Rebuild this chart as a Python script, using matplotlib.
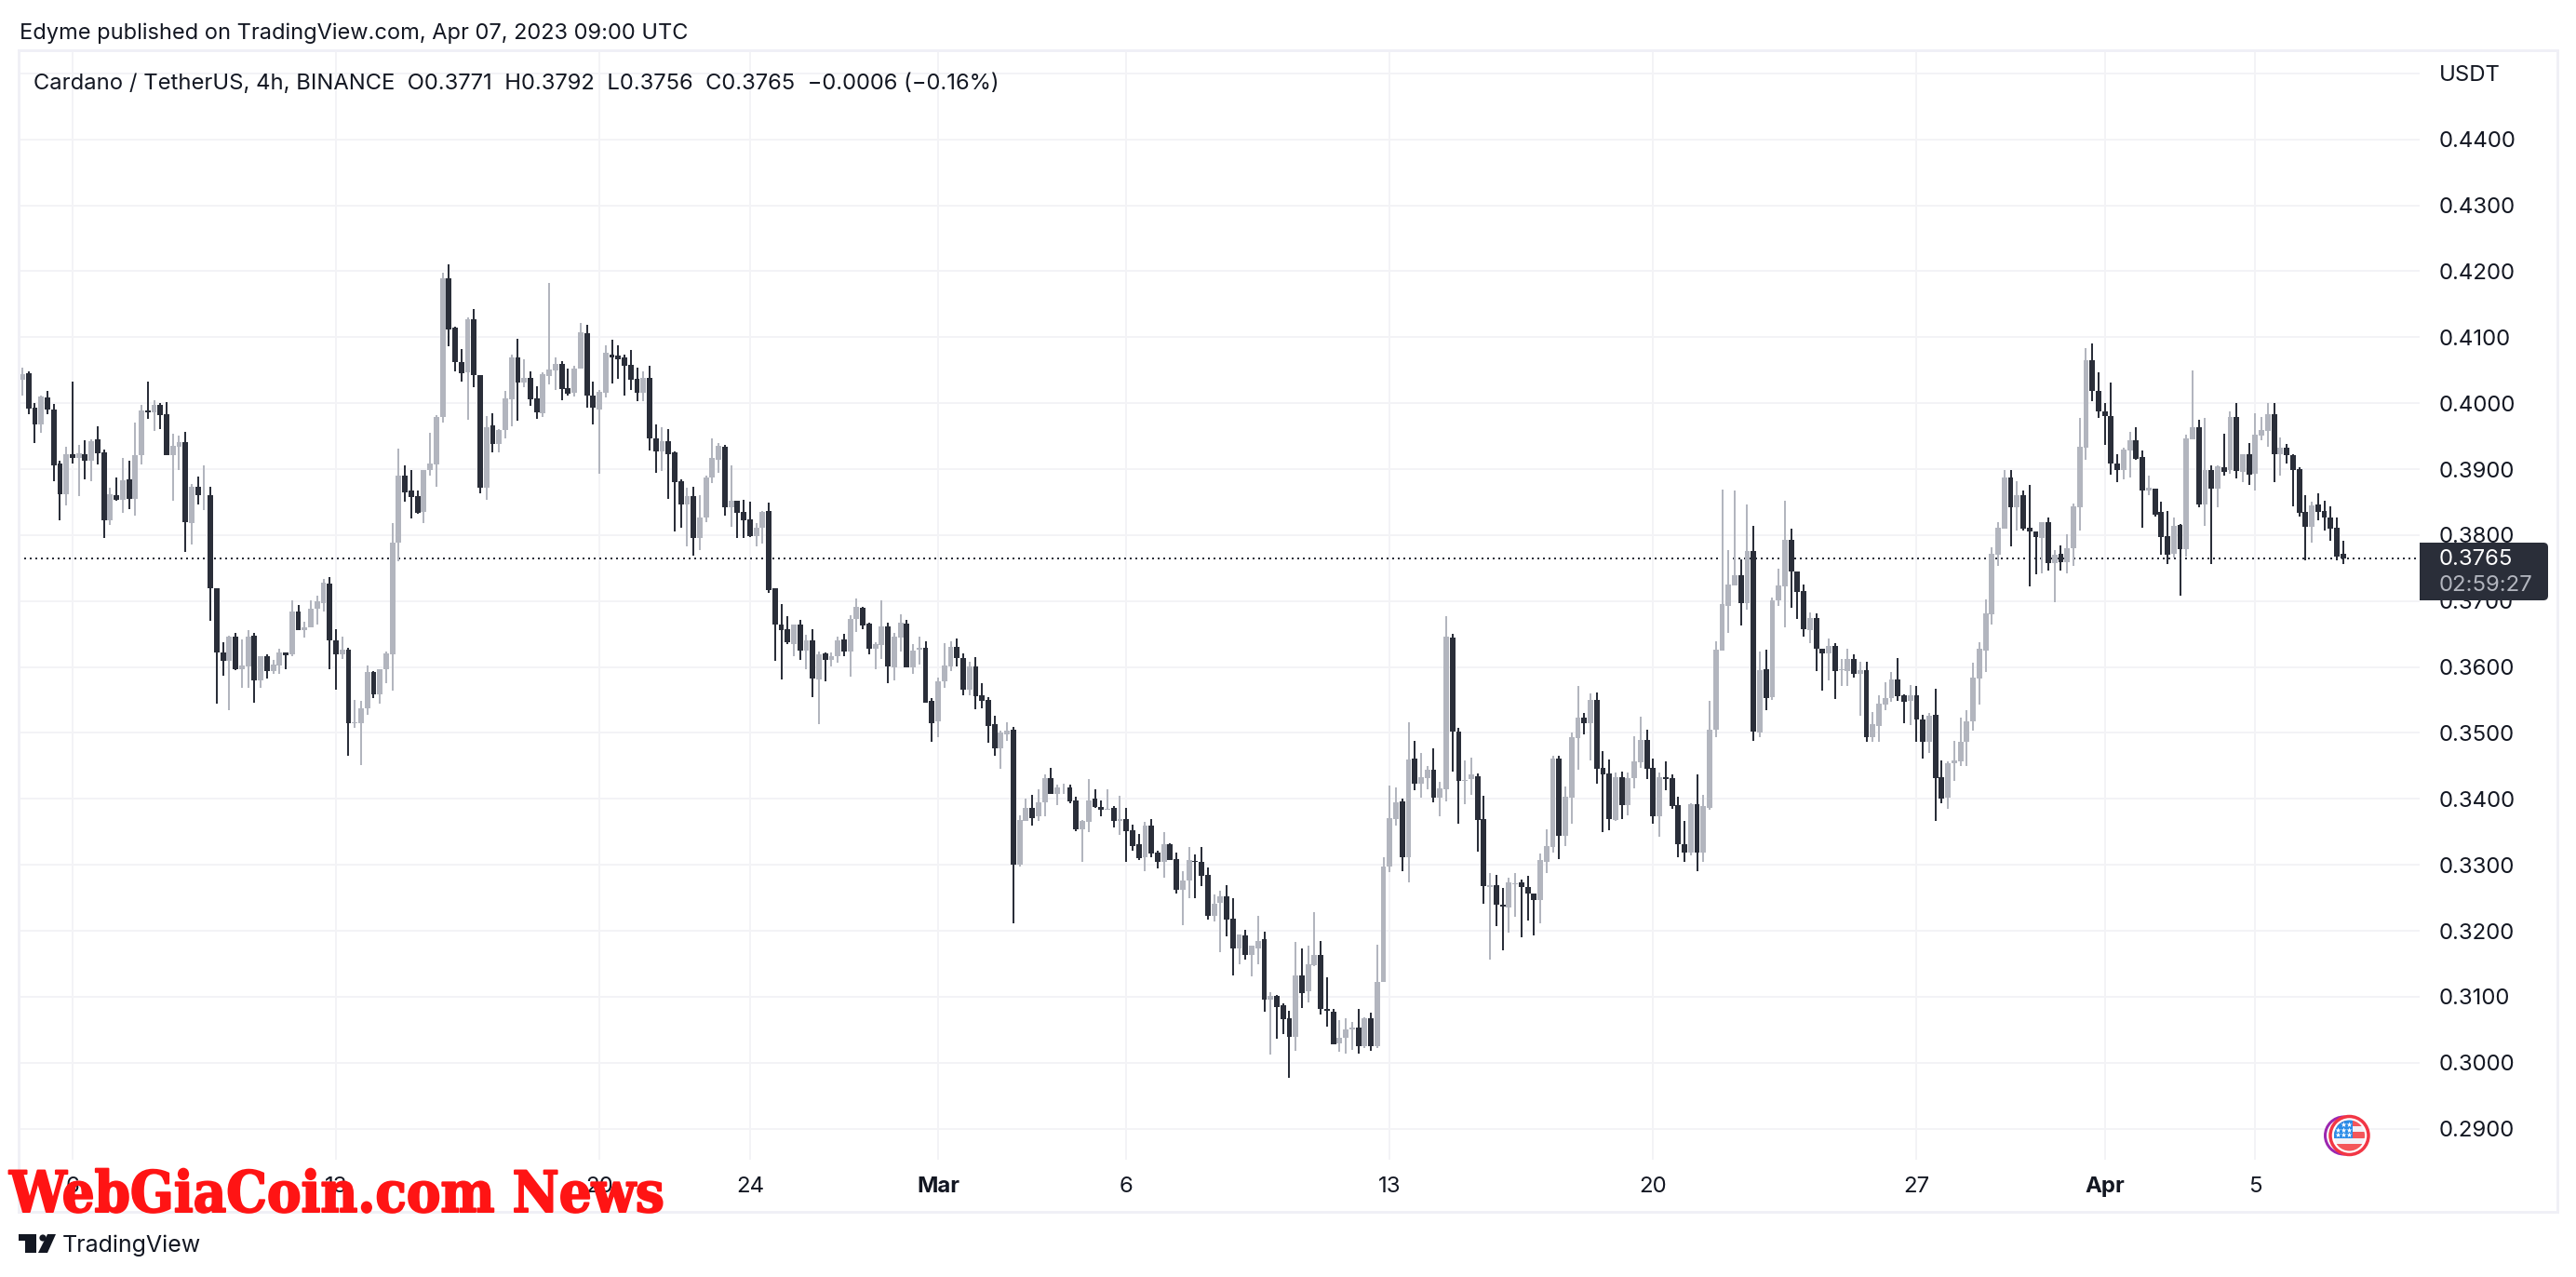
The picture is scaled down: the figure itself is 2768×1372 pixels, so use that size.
import matplotlib
matplotlib.use("Agg")
import matplotlib.pyplot as plt
import matplotlib.patheffects as pe
from matplotlib.patches import Rectangle, Circle, Polygon, FancyBboxPatch

# Prices in units of 0.0001 USDT, 4h candles, index 1..371
highs = [
4054,4048,4000,4012,4018,3999,3913,3934,4032,3936,
3944,3945,3965,3929,3872,3887,3917,3913,3971,3997,
4033,4005,4000,4002,3953,3951,3956,3878,3889,3905,
3873,3720,3637,3647,3651,3642,3656,3651,3616,3619,
3611,3628,3622,3701,3694,3668,3701,3708,3733,3737,
3657,3646,3629,3550,3548,3602,3594,3597,3623,3818,
3931,3906,3899,3868,3899,3955,3982,4198,4211,4116,
4082,4130,4143,4043,3981,3985,3961,4019,4073,4097,
4066,4048,4026,4047,4182,4070,4064,4053,4057,4121,
4119,4032,4020,4088,4096,4088,4073,4081,4054,4048,
4057,3968,3964,3961,3927,3885,3872,3873,3860,3890,
3947,3939,3937,3905,3852,3854,3851,3818,3837,3849,
3720,3695,3677,3665,3672,3649,3657,3623,3622,3622,
3646,3650,3679,3704,3691,3667,3638,3701,3667,3652,
3680,3671,3635,3646,3639,3553,3584,3636,3639,3643,
3620,3608,3615,3575,3554,3526,3504,3516,3509,3375,
3400,3406,3415,3437,3447,3421,3423,3422,3403,3368,
3430,3414,3398,3414,3389,3405,3386,3361,3347,3365,
3369,3321,3349,3333,3319,3291,3327,3316,3327,3296,
3255,3261,3269,3250,3195,3201,3177,3223,3199,3107,
3103,3090,3079,3183,3174,3177,3229,3185,3130,3081,
3064,3067,3062,3082,3069,3076,3179,3311,3420,3417,
3401,3516,3488,3469,3450,3477,3426,3677,3650,3508,
3458,3463,3439,3405,3287,3285,3265,3281,3288,3278,
3284,3257,3317,3354,3466,3465,3419,3501,3571,3531,
3560,3562,3473,3460,3440,3442,3440,3495,3524,3505,
3461,3440,3457,3437,3404,3366,3394,3437,3406,3548,
3639,3869,3777,3868,3763,3847,3814,3623,3626,3705,
3749,3852,3810,3745,3725,3683,3681,3628,3643,3636,
3612,3628,3619,3608,3608,3532,3557,3577,3593,3613,
3559,3572,3571,3527,3531,3567,3459,3457,3488,3523,
3534,3606,3638,3702,3782,3819,3898,3899,3881,3867,
3876,3805,3820,3827,3777,3785,3801,3848,3978,4084,
4091,4047,4000,4031,3923,3932,3957,3963,3928,3890,
3871,3850,3837,3827,3817,3952,4049,3975,3978,3905,
3905,3953,3988,4000,3923,3940,3984,3979,4000,4000,
3948,3938,3922,3903,3860,3851,3864,3852,3844,3827,3792]
body_tops = [
4044,4045,3993,4010,4008,3991,3908,3922,3922,3924,
3922,3943,3945,3925,3862,3861,3883,3884,3921,3989,
3989,3998,3998,3983,3935,3941,3941,3873,3873,3861,
3860,3720,3622,3646,3646,3602,3646,3647,3616,3616,
3603,3622,3622,3684,3684,3660,3688,3699,3728,3727,
3640,3626,3626,3516,3538,3593,3593,3597,3621,3789,
3890,3890,3867,3859,3899,3908,3979,4189,4189,4114,
4062,4127,4127,4043,3964,3966,3959,4007,4070,4070,
4038,4039,4007,4044,4051,4059,4059,4023,4053,4107,
4106,4012,4017,4076,4074,4072,4070,4058,4037,4039,
4038,3946,3943,3943,3925,3881,3859,3859,3827,3887,
3917,3935,3934,3852,3852,3835,3824,3811,3835,3836,
3720,3665,3658,3665,3665,3640,3640,3619,3621,3617,
3640,3642,3673,3691,3690,3666,3635,3662,3661,3646,
3667,3666,3625,3629,3629,3548,3578,3602,3631,3631,
3613,3601,3601,3557,3550,3514,3500,3504,3505,3368,
3387,3387,3395,3431,3431,3417,3415,3417,3397,3366,
3398,3400,3388,3385,3387,3369,3369,3352,3331,3359,
3359,3318,3331,3331,3309,3276,3307,3306,3305,3285,
3241,3253,3253,3218,3194,3193,3177,3185,3187,3102,
3102,3087,3067,3133,3133,3150,3163,3163,3081,3078,
3038,3051,3054,3054,3067,3067,3123,3298,3371,3395,
3396,3460,3461,3433,3444,3444,3416,3646,3644,3502,
3429,3437,3435,3369,3269,3269,3239,3273,3272,3273,
3267,3256,3307,3328,3461,3461,3403,3493,3523,3523,
3550,3550,3447,3438,3433,3433,3432,3457,3490,3489,
3447,3433,3433,3431,3390,3332,3392,3392,3389,3505,
3626,3695,3725,3739,3739,3776,3776,3595,3596,3701,
3724,3793,3793,3745,3715,3674,3674,3628,3632,3632,
3597,3612,3612,3595,3595,3513,3544,3553,3581,3581,
3557,3557,3557,3521,3526,3527,3433,3454,3458,3486,
3517,3584,3627,3681,3771,3811,3887,3888,3861,3861,
3811,3805,3820,3819,3770,3771,3780,3843,3934,4065,
4065,4019,3988,3981,3909,3929,3944,3944,3919,3872,
3871,3835,3799,3814,3815,3946,3963,3963,3899,3898,
3904,3903,3979,3979,3923,3923,3952,3959,3983,3983,
3932,3932,3921,3900,3835,3845,3846,3836,3827,3811,3771]
body_bottoms = [
4035,3992,3968,3968,3990,3906,3862,3862,3917,3917,
3913,3913,3924,3822,3822,3854,3854,3855,3855,3921,
3986,3986,3982,3921,3921,3934,3820,3818,3860,3860,
3720,3622,3610,3609,3597,3597,3601,3580,3579,3594,
3594,3602,3618,3619,3656,3656,3660,3688,3697,3640,
3619,3619,3515,3515,3515,3538,3559,3559,3596,3619,
3789,3865,3858,3834,3835,3898,3907,3979,4112,4062,
4045,4047,4042,3872,3872,3938,3938,3959,4006,4031,
4031,4006,3986,3984,4041,4049,4022,4014,4016,4053,
4011,3993,3991,4016,4070,4067,4056,4035,4016,4016,
3946,3927,3927,3922,3880,3846,3846,3796,3796,3826,
3887,3914,3842,3842,3833,3822,3798,3798,3811,3717,
3665,3656,3637,3635,3625,3625,3582,3581,3611,3611,
3616,3624,3623,3673,3663,3627,3628,3633,3601,3599,
3645,3600,3600,3626,3546,3515,3517,3578,3601,3613,
3565,3566,3556,3549,3511,3477,3477,3498,3300,3300,
3367,3371,3373,3395,3408,3408,3415,3396,3354,3354,
3365,3388,3383,3383,3367,3366,3351,3329,3310,3312,
3317,3304,3305,3308,3262,3262,3276,3305,3284,3223,
3223,3242,3217,3174,3174,3163,3164,3174,3095,3095,
3085,3066,3039,3039,3106,3108,3148,3081,3079,3028,
3029,3038,3050,3025,3025,3025,3025,3122,3297,3370,
3312,3311,3423,3423,3432,3402,3402,3415,3502,3427,
3427,3430,3368,3268,3267,3239,3237,3235,3270,3266,
3256,3246,3246,3305,3327,3344,3344,3402,3492,3515,
3515,3445,3437,3369,3368,3390,3390,3431,3455,3445,
3373,3373,3430,3389,3331,3318,3318,3318,3318,3386,
3505,3625,3693,3724,3697,3697,3502,3500,3553,3554,
3701,3722,3745,3714,3657,3656,3628,3621,3621,3594,
3595,3594,3590,3590,3494,3493,3510,3543,3553,3556,
3547,3548,3520,3486,3486,3432,3400,3402,3454,3457,
3486,3517,3583,3625,3680,3770,3810,3842,3842,3810,
3805,3797,3795,3758,3758,3759,3759,3780,3842,3933,
4018,3987,3980,3909,3899,3899,3928,3916,3867,3867,
3831,3797,3770,3771,3778,3778,3945,3846,3846,3870,
3870,3896,3898,3897,3896,3891,3893,3951,3958,3923,
3922,3921,3898,3833,3812,3812,3835,3826,3810,3768,3765]
lows = [
4012,3983,3940,3955,3983,3881,3822,3845,3908,3859,
3884,3882,3907,3795,3815,3852,3833,3840,3830,3907,
3976,3958,3960,3921,3852,3898,3774,3786,3847,3838,
3670,3544,3587,3534,3595,3568,3568,3546,3568,3582,
3589,3589,3596,3616,3656,3644,3660,3664,3684,3596,
3565,3612,3465,3508,3451,3527,3553,3545,3575,3564,
3760,3851,3825,3832,3818,3890,3873,3971,4086,4048,
4033,3975,4024,3863,3854,3926,3925,3947,3965,3974,
4024,3996,3976,3979,4028,4020,4005,4012,4010,4053,
3993,3968,3893,4009,4030,4037,4012,4020,4003,4003,
3928,3895,3897,3855,3805,3811,3783,3769,3777,3820,
3879,3895,3830,3813,3795,3795,3797,3783,3787,3712,
3609,3581,3635,3616,3611,3597,3555,3513,3578,3601,
3606,3616,3585,3653,3657,3619,3596,3612,3576,3579,
3624,3599,3590,3604,3546,3486,3493,3568,3594,3601,
3557,3557,3536,3538,3485,3465,3445,3488,3212,3297,
3367,3359,3366,3373,3407,3391,3407,3394,3351,3304,
3349,3387,3373,3383,3357,3346,3304,3322,3308,3291,
3312,3294,3280,3308,3257,3209,3249,3249,3268,3217,
3214,3167,3191,3133,3150,3156,3131,3149,3077,3013,
3036,3043,2977,3018,3083,3091,3146,3073,3055,3028,
3017,3014,3019,3014,3022,3018,3022,3122,3289,3359,
3291,3274,3413,3402,3415,3395,3374,3396,3441,3362,
3392,3406,3320,3241,3156,3207,3170,3197,3221,3190,
3216,3193,3211,3288,3318,3309,3328,3363,3444,3498,
3458,3423,3349,3352,3366,3369,3375,3416,3447,3430,
3363,3342,3413,3385,3311,3304,3315,3290,3305,3383,
3493,3625,3652,3724,3663,3687,3488,3493,3534,3550,
3693,3660,3690,3673,3646,3636,3594,3564,3580,3551,
3571,3571,3584,3526,3487,3486,3487,3535,3547,3549,
3515,3512,3486,3461,3470,3366,3393,3385,3427,3450,
3450,3503,3543,3592,3665,3753,3810,3783,3807,3807,
3722,3741,3742,3746,3698,3746,3742,3753,3807,3914,
4003,3977,3937,3891,3880,3884,3887,3914,3811,3860,
3828,3770,3756,3766,3708,3768,3945,3842,3814,3756,
3842,3890,3893,3886,3880,3876,3867,3944,3934,3880,
3890,3909,3843,3828,3762,3789,3822,3807,3791,3762,3756]
# u = close above open, d = close below open
direction_rows = [
"u d d u d d d u d u", "d u d d u d u d u u", "d u d d u u d u d u",
"d d d u d u u d u d", "u u d u d u u u u d", "d u d u u u d u u u",
"u d d d u u u u d d", "d u d d u d u u u d", "u d d u u u d d u u",
"d d u u d d d d d u", "d d u d d d u d u u", "u u d u d d d u u d",
"d d d u d u d u d u", "u d u u d d u u d u", "u d u u d d u u u d",
"d u d d d d u u d u", "u d u u d u u d d u", "u d d u d u d d d u",
"d d u d d u u d d d", "u u d d u d u u d u", "d d d u d u u d d d",
"u u u d u d u u u u", "d u d u u d u u d d", "u u d d u d d u u d",
"d d u u u d u u u d", "u d d d u d u u u d", "d u d d d d u d u u",
"u u u u d u d u d u", "u u d d d u d d u d", "u u d u d u u u u d",
"d u d d u d d u u u", "u u u u u u u d u d", "d d u d u d u u u u",
"d d d d d u u d d u", "d d d u d u u d u d", "u d u d u d u u u d",
"u d d d d u d d d d d",
]
directions = "".join(direction_rows).replace(" ", "")

time_positions = [9, 51, 93, 117, 147, 177, 219, 261, 303, 333, 357]
time_labels = ["6", "13", "20", "24", "Mar", "6", "13", "20", "27", "Apr", "5"]
bold_time_labels = ["Mar", "Apr"]
price_ticks = [0.29, 0.30, 0.31, 0.32, 0.33, 0.34, 0.35, 0.36, 0.37, 0.38,
               0.39, 0.40, 0.41, 0.42, 0.43, 0.44, 0.45]
last_price = 0.3765

assert len(highs) == len(body_tops) == len(body_bottoms) == len(lows) == len(directions) == 371

UP = "#B2B5BE"
DOWN = "#2A2E39"
GRID = "#F3F3F6"
FRAME = "#F0F0F6"
TXT = "#131722"
FONT = "Inter"
W, H = 2768, 1372
PX = 72 / 100  # points per pixel at dpi 100

plt.rcParams["font.family"] = [FONT, "DejaVu Sans"]
fig = plt.figure(figsize=(W / 100, H / 100), dpi=100, facecolor="white")

# main pane: pixels x 20..2600, y 54..1246
ax = fig.add_axes([20 / W, (H - 1246) / H, 2580 / W, 1192 / H], facecolor="white")
ax.set_xlim(0.4065, 383.2)
ax.set_ylim(0.2853, 0.4535)
for s in ax.spines.values():
    s.set_visible(False)

ax.set_axisbelow(True)
ax.grid(True, color=GRID, linewidth=2 * PX)
ax.set_xticks(time_positions)
ax.set_xticklabels(time_labels, fontsize=24 * PX, color=TXT)
for lab in ax.get_xticklabels():
    if lab.get_text() in bold_time_labels:
        lab.set_fontweight("bold")
ax.tick_params(axis="x", length=0, pad=18 * PX)
ax.yaxis.tick_right()
ax.set_yticks(price_ticks)
ax.set_yticklabels(["USDT" if p == 0.45 else f"{p:.4f}" for p in price_ticks],
                   fontsize=24 * PX, color=TXT)
ax.tick_params(axis="y", length=0, pad=21 * PX)

ax.axhline(last_price, color=DOWN, linewidth=2 * PX, dashes=(1, 2), zorder=1.5)

idx = list(range(1, len(highs) + 1))
colors = [UP if d == "u" else DOWN for d in directions]
ax.vlines(idx, [v / 1e4 for v in lows], [v / 1e4 for v in highs],
          colors=colors, linewidth=2 * PX, zorder=2, antialiased=False)
ax.bar(idx, [(t - b) / 1e4 for t, b in zip(body_tops, body_bottoms)], width=0.87,
       bottom=[b / 1e4 for b in body_bottoms], color=colors, linewidth=0, zorder=3,
       antialiased=False)

# overlay in pixel coordinates for frame, labels, badge and logos
ov = fig.add_axes([0, 0, 1, 1], facecolor="none", zorder=5)
ov.set_xlim(0, W)
ov.set_ylim(H, 0)
ov.axis("off")

ov.add_patch(Rectangle((20, 54), 2728, 1248, fill=False, edgecolor=FRAME, linewidth=3 * PX))

ov.text(21, 36, "Edyme published on TradingView.com, Apr 07, 2023 09:00 UTC",
        fontsize=23.6 * PX, color=TXT, va="center", ha="left")
ov.text(36, 89.5, "Cardano / TetherUS, 4h, BINANCE  O0.3771  H0.3792  L0.3756  C0.3765  \u22120.0006 (\u22120.16%)",
        fontsize=23.8 * PX, color=TXT, va="center", ha="left")

# last price tag
ov.add_patch(FancyBboxPatch((2600, 583), 138, 62, boxstyle="round,pad=0,rounding_size=5",
                            facecolor=DOWN, edgecolor="none"))
ov.add_patch(Rectangle((2600, 583), 20, 62, facecolor=DOWN, edgecolor="none"))
ov.text(2621, 601, "0.3765", fontsize=24 * PX, color="white", va="center", ha="left")
ov.text(2621, 629, "02:59:27", fontsize=24 * PX, color="#B2B5BE", va="center", ha="left")

# economic event badge
ov.add_patch(Circle((2518.5, 1220), 20, facecolor="white", edgecolor="#9C27B0", linewidth=3 * PX))
ov.add_patch(Circle((2524.5, 1220), 20.5, facecolor="white", edgecolor="#F23645", linewidth=3.5 * PX))
disk = Circle((2524.5, 1220), 16.5, facecolor="#F2F2F7", edgecolor="none")
ov.add_patch(disk)
for y0, y1 in [(1204, 1210), (1216, 1223), (1229, 1237)]:
    r = Rectangle((2505, y0), 40, y1 - y0, facecolor="#F4565A", edgecolor="none")
    ov.add_patch(r)
    r.set_clip_path(disk)
blue = Rectangle((2505, 1203), 23, 20, facecolor="#2A8CE8", edgecolor="none")
ov.add_patch(blue)
blue.set_clip_path(disk)
ov.scatter([2518, 2524, 2512, 2518, 2524, 2512, 2518, 2524],
           [1208, 1208, 1213.5, 1213.5, 1213.5, 1219, 1219, 1219],
           marker="*", s=20, color="white", linewidth=0, zorder=4)

# TradingView logo
ov.add_patch(Polygon([(20, 1326), (39, 1326), (39, 1346), (27, 1346), (27, 1333), (20, 1333)],
                     closed=True, facecolor=TXT, edgecolor="none"))
ov.add_patch(Circle((46, 1330), 3.6, facecolor=TXT, edgecolor="none"))
ov.add_patch(Polygon([(51, 1326), (60, 1326), (51, 1346), (41, 1346)],
                     closed=True, facecolor=TXT, edgecolor="none"))
ov.text(67, 1338, "TradingView", fontsize=25 * PX, color=TXT, va="center", ha="left")

# watermark
ov.text(10, 1302, "WebGiaCoin.com News", fontsize=61 * PX, color="#FF1414",
        family=["DejaVu Serif"], stretch="condensed", weight="bold", va="baseline", ha="left",
        path_effects=[pe.withStroke(linewidth=2 * PX, foreground="#FF1414")], zorder=10)

fig.savefig("out.png", dpi=100, facecolor="white")
